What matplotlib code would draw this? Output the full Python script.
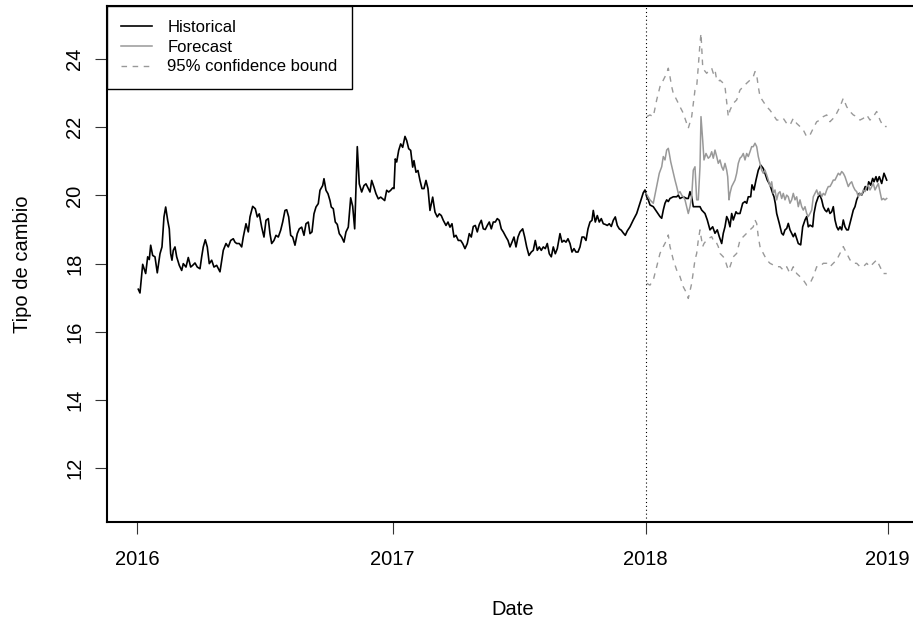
import matplotlib
matplotlib.use("Agg")
import matplotlib.pyplot as plt
from matplotlib.lines import Line2D

plt.rcParams['font.family'] = ['Liberation Sans', 'DejaVu Sans']

# trading-day index of each year label
year_pos = [0, 255.4, 508.4, 750.4]
year_labels = ['2016', '2017', '2018', '2019']

# historical exchange rate (index, value)
hist_idx = [1.0, 2.7, 5.4, 8.4, 10.4, 12.0, 13.4, 15.4, 17.7, 20.0, 22.7, 24.7, 26.7, 28.4, 30.4, 32.0,
            33.4, 34.7, 36.0, 37.7, 39.4, 42.0, 44.4, 46.0, 48.7, 51.0, 53.4, 55.4, 57.7, 60.0, 62.7,
            64.4, 66.0, 68.0, 70.0, 72.0, 74.4, 76.7, 79.4, 82.7, 86.0, 88.7, 91.0, 93.4, 96.0, 97.7,
            99.4, 102.0, 104.4, 106.0, 108.7, 111.0, 112.7, 115.4, 118.0, 120.0, 122.0, 124.4, 126.7,
            128.7, 131.0, 132.7, 134.4, 136.7, 138.7, 141.0, 143.4, 145.4, 147.7, 149.4, 151.4, 153.4,
            155.4, 157.7, 160.0, 162.0, 164.4, 166.7, 168.7, 171.0, 172.7, 174.7, 176.7, 178.7, 181.0,
            182.7, 185.4, 186.7, 188.7, 190.7, 192.7, 194.0, 196.0, 198.0, 200.0, 202.0, 204.4, 206.7,
            208.7, 211.0, 213.4, 215.4, 217.4, 220.0, 222.0, 224.4, 226.7, 228.7, 231.0,
            232.7, 234.4, 236.7, 238.7, 241.0, 243.4, 245.4, 247.4, 249.4, 251.4, 253.4, 255.4, 256.7,
            258.0, 259.4, 261.4, 263.4, 265.4, 267.7, 269.4, 271.4, 273.4, 275.4, 276.7, 278.7, 280.7,
            282.7, 284.7, 286.7, 288.7, 290.7, 292.7, 295.4, 297.7, 300.0, 302.0, 304.0, 306.0, 308.7,
            310.7, 312.7, 314.7, 316.7, 318.7, 321.0, 323.4, 325.4, 327.7, 330.0, 332.0, 334.0, 336.0,
            338.0, 340.0, 342.0, 344.0, 346.0, 348.0, 350.0, 352.0, 354.0, 356.0, 358.0, 360.0, 362.0,
            364.0, 366.0, 368.7, 370.7, 372.7, 374.7, 376.7, 378.7, 380.7, 382.7, 385.4, 387.4, 389.4,
            391.7, 394.0, 396.0, 398.0, 400.0, 402.0, 404.0, 406.0, 408.0, 410.0, 412.0, 414.0, 416.0,
            418.0, 420.0, 422.7, 424.7, 426.7, 428.7, 430.7, 432.7, 434.7, 436.7, 438.7, 440.7, 442.7,
            444.7, 446.7, 448.7, 450.7, 452.7, 454.7, 456.0, 458.0, 460.0, 462.0, 464.0, 466.0, 468.0,
            470.0, 472.0, 474.0, 476.0, 478.0, 480.0, 482.0, 484.0, 486.0, 488.0, 490.0,
            492.7, 496.0, 499.4, 502.7, 506.0, 507.7, 509.4, 511.0, 512.7, 516.0, 519.4, 522.7, 524.4,
            526.0, 527.7, 529.4, 531.0, 532.7, 536.0, 539.4, 541.0, 542.7, 546.0, 549.4, 551.0, 552.7,
            554.4, 556.0, 559.4, 562.7, 564.4, 567.7, 570.0, 572.7, 575.4, 577.7, 580.0, 582.0, 584.4,
            586.0, 587.7, 589.4, 591.0, 592.7, 594.4, 596.0, 598.7, 600.0, 602.7, 605.4, 607.7, 609.4,
            611.0, 613.4, 614.7, 616.7, 618.7, 621.0, 623.4, 626.0, 627.7, 630.0, 632.7, 635.4, 636.7,
            638.0, 639.4, 642.0, 644.4, 646.0, 647.7, 649.4, 651.0, 652.7, 654.4, 656.0, 657.7, 659.4,
            661.0, 663.4, 665.4, 667.7, 669.4, 671.0, 672.7, 675.4, 676.7, 678.7, 681.0, 682.7, 684.4,
            686.0, 687.7, 689.4, 691.0, 692.7, 694.4, 696.0, 697.7, 699.4, 701.0, 702.7, 704.4, 706.0,
            707.7, 709.4, 711.0, 712.7, 714.4, 716.0, 717.7, 719.4, 722.0, 724.4, 726.0, 728.0, 730.0,
            731.4, 733.4, 735.4, 736.7, 738.7, 740.0, 742.0, 744.4, 746.7, 748.0, 749.4]
hist_val = [17.25, 17.14, 17.98, 17.71, 18.20, 18.12, 18.54, 18.24, 18.20, 17.73, 18.29, 18.49, 19.37,
            19.66, 19.27, 19.02, 18.29, 18.10, 18.39, 18.49, 18.20, 17.95, 17.80, 18.00, 17.90, 18.18,
            17.90, 17.95, 18.02, 17.90, 17.85, 18.20, 18.49, 18.70, 18.49, 18.00, 18.10, 17.90, 17.95,
            17.76, 18.39, 18.59, 18.49, 18.68, 18.73, 18.63, 18.59, 18.59, 18.49, 18.78, 19.17, 18.93,
            19.37, 19.68, 19.61, 19.37, 19.46, 19.07, 18.78, 19.27, 19.32, 18.88, 18.59, 18.68, 18.83,
            18.78, 18.98, 19.22, 19.56, 19.58, 19.37, 18.83, 18.78, 18.54, 18.88, 19.02, 19.07, 18.83,
            19.17, 19.22, 18.88, 18.93, 19.46, 19.66, 19.76, 20.15, 20.29, 20.49, 20.15, 20.05, 19.85,
            19.66, 19.61, 19.22, 19.15, 18.88, 18.78, 18.63, 18.93, 19.07, 19.93, 19.68, 19.02, 21.43,
            20.34, 20.10, 20.29, 20.34, 20.20,
            20.10, 20.44, 20.24, 20.05, 19.90, 19.95, 19.90, 19.85, 20.15, 20.10, 20.15, 20.22, 20.20,
            21.07, 20.98, 21.32, 21.51, 21.41, 21.73, 21.61, 21.37, 21.32, 20.83, 21.02, 20.68, 20.73,
            20.44, 20.20, 20.20, 20.44, 20.20, 19.56, 19.95, 19.51, 19.37, 19.46, 19.41, 19.27, 19.12,
            19.22, 19.07, 19.17, 18.78, 18.83, 18.68, 18.68, 18.59, 18.44, 18.59, 18.88, 18.78, 19.09,
            19.12, 18.93, 19.15, 19.27, 19.02, 19.00, 19.12, 19.22, 19.02, 19.22, 19.22, 19.32, 19.27,
            19.02, 18.93, 18.78, 18.68, 18.49, 18.63, 18.78, 18.49, 18.78, 18.93, 19.02, 18.78, 18.49,
            18.24, 18.34, 18.39, 18.68, 18.39, 18.49, 18.39, 18.49, 18.44, 18.59, 18.29, 18.20, 18.49,
            18.29, 18.44, 18.88, 18.63, 18.68, 18.63, 18.73, 18.59, 18.34, 18.44, 18.34, 18.34, 18.49,
            18.78, 18.78, 18.68, 19.02, 19.22, 19.27, 19.56, 19.22, 19.41, 19.22, 19.32, 19.17, 19.15,
            19.12, 19.17, 19.09, 19.27, 19.37, 19.12, 19.02, 18.98, 18.90, 18.83, 18.96,
            19.08, 19.28, 19.47, 19.77, 20.08, 20.16, 19.96, 19.87, 19.72, 19.67, 19.52, 19.38, 19.33,
            19.57, 19.77, 19.87, 19.82, 19.91, 19.96, 19.96, 20.01, 19.91, 19.96, 19.91, 19.91, 20.11,
            19.96, 19.67, 19.67, 19.67, 19.57, 19.47, 19.28, 18.99, 19.08, 18.89, 18.99, 18.79, 18.59,
            18.89, 19.08, 19.38, 19.28, 19.08, 19.47, 19.28, 19.52, 19.47, 19.47, 19.77, 19.82, 19.77,
            19.96, 19.96, 20.31, 20.16, 20.45, 20.74, 20.89, 20.79, 20.65, 20.45, 20.31, 20.06, 19.96,
            19.77, 19.47, 19.18, 18.89, 18.84, 18.99, 19.03, 19.18, 18.99, 18.89, 18.79, 18.89, 18.74,
            18.59, 18.55, 19.08, 19.28, 19.38, 19.08, 19.13, 19.08, 19.47, 19.77, 19.96, 20.01, 19.87,
            19.67, 19.57, 19.52, 19.62, 19.47, 19.52, 19.67, 19.28, 19.08, 18.99, 19.08, 18.99, 19.28,
            19.08, 18.99, 18.99, 19.18, 19.38, 19.57, 19.67, 19.87, 20.06, 20.01, 20.11, 20.26, 20.16,
            20.40, 20.30, 20.50, 20.40, 20.55, 20.40, 20.55, 20.35, 20.65, 20.55, 20.45]

# forecast from 2018 on
fc_idx = [508.7, 512.7, 516.0, 519.4, 522.0, 524.4, 526.0, 527.7, 529.4, 531.0, 532.0, 533.4, 535.4,
          537.7, 539.4, 541.0, 542.7, 544.4, 546.0, 547.7, 549.4, 551.0, 552.7, 554.4, 556.0, 557.7,
          559.4, 561.0, 562.7, 563.7, 565.4, 566.7, 568.7, 571.0, 572.7, 574.4, 576.0, 577.7, 579.4,
          581.0, 582.7, 584.4, 586.0, 587.7, 589.4, 590.4, 591.7, 592.7, 594.4, 596.0, 597.7, 599.4,
          601.0, 602.7, 604.4, 606.0, 607.7, 609.4, 611.0, 612.7, 614.4, 616.0, 617.7, 619.4, 621.0,
          622.7, 624.4, 626.0, 627.7, 629.4, 631.0, 632.7, 634.4, 636.0, 637.7, 639.4, 641.0, 642.7,
          644.4, 646.0, 647.7, 649.4, 651.0, 652.7, 654.4, 656.0, 657.7, 659.4, 661.0, 662.7, 664.4,
          666.0, 667.7, 669.4, 671.0, 672.7, 674.4, 676.0, 677.7, 679.4, 681.0, 682.7, 684.4, 686.0,
          687.7, 689.4, 691.0, 692.7, 694.4, 696.0, 697.7, 699.4, 701.0, 702.7, 704.4, 706.0, 707.7,
          709.4, 711.0, 712.7, 714.4, 716.0, 717.7, 719.4, 721.0, 722.7, 724.4, 726.0, 727.7, 729.4,
          731.0, 732.7, 734.4, 736.0, 737.7, 739.4, 741.0, 742.7, 744.4, 746.0, 747.7, 749.4]
fc_val = [20.06, 19.87, 19.77, 20.26, 20.65, 20.84, 21.14, 21.04, 21.33, 21.38, 21.23, 20.99, 20.74,
          20.45, 20.26, 20.06, 20.11, 20.01, 19.96, 19.87, 19.67, 19.47, 19.67, 19.96, 20.74, 20.84,
          19.87, 19.87, 20.84, 22.31, 21.62, 21.04, 21.23, 21.09, 21.14, 21.28, 21.09, 21.33, 21.14,
          20.94, 21.04, 20.84, 20.74, 20.94, 20.74, 20.55, 19.87, 20.06, 20.26, 20.35, 20.45, 20.65,
          20.94, 21.09, 21.14, 21.23, 21.04, 21.23, 21.14, 21.28, 21.43, 21.43, 21.53, 21.43, 21.14,
          20.94, 20.74, 20.65, 20.74, 20.60, 20.45, 20.26, 20.40, 20.06, 20.16, 19.87, 20.06, 20.11,
          19.91, 20.06, 19.87, 20.01, 19.96, 19.77, 19.87, 20.06, 19.87, 19.96, 19.67, 19.87, 19.67,
          19.57, 19.67, 19.47, 19.38, 19.47, 19.57, 19.96, 20.06, 20.16, 20.01, 20.11, 19.96, 20.06,
          20.01, 20.16, 20.26, 20.26, 20.35, 20.45, 20.45, 20.55, 20.65, 20.60, 20.70, 20.65, 20.55,
          20.40, 20.26, 20.35, 20.40, 20.26, 20.16, 20.11, 19.96, 20.06, 20.01, 20.16, 20.11, 20.26,
          20.30, 20.16, 20.26, 20.35, 20.16, 20.26, 20.35, 20.11, 19.87, 19.91, 19.87, 19.91]

# 95% bounds
bound_idx = [509.4, 512.7, 516.0, 519.4, 522.7, 526.0, 529.4, 531.0, 532.7, 534.4, 536.0, 539.4, 542.7,
             546.0, 549.4, 551.0, 554.4, 557.7, 559.4, 561.0, 562.7, 563.7, 565.4, 566.7, 569.4, 572.0,
             574.4, 576.0, 577.7, 579.4, 581.0, 582.7, 586.0, 587.7, 591.0, 592.7, 596.0, 599.4, 602.7,
             606.0, 609.4, 612.7, 616.0, 617.7, 619.4, 621.0, 622.7, 626.0, 629.4, 632.7, 636.0, 639.4,
             642.7, 646.0, 649.4, 652.7, 656.0, 659.4, 662.7, 666.0, 669.4, 672.7, 676.0, 679.4, 682.7,
             686.0, 689.4, 692.7, 696.0, 699.4, 702.7, 706.0, 709.4, 712.7, 716.0, 719.4, 722.7, 726.0,
             729.4, 732.7, 736.0, 739.4, 742.7, 746.0, 749.4]
upper_val = [22.31, 22.36, 22.31, 22.80, 23.19, 23.38, 23.58, 23.73, 23.48, 23.19, 22.99, 22.80, 22.60,
             22.41, 22.11, 21.97, 22.31, 23.09, 23.19, 23.78, 24.46, 24.75, 23.78, 23.68, 23.58, 23.68,
             23.73, 23.58, 23.68, 23.38, 23.34, 23.38, 23.29, 23.19, 22.31, 22.50, 22.70, 22.80, 23.09,
             23.19, 23.29, 23.38, 23.48, 23.63, 23.53, 23.19, 22.90, 22.75, 22.60, 22.50, 22.36, 22.21,
             22.21, 22.26, 22.11, 22.06, 22.26, 22.11, 22.02, 21.92, 21.72, 21.77, 21.97, 22.16, 22.21,
             22.31, 22.36, 22.16, 22.26, 22.41, 22.60, 22.85, 22.60, 22.46, 22.36, 22.31, 22.21, 22.26,
             22.36, 22.21, 22.31, 22.46, 22.21, 22.02, 22.02]
lower_val = [17.42, 17.37, 17.52, 17.91, 18.30, 18.50, 18.69, 18.84, 18.50, 18.30, 18.11, 17.81, 17.62,
             17.32, 17.13, 16.98, 17.42, 18.11, 18.30, 18.69, 18.99, 18.80, 18.50, 18.59, 18.69, 18.75,
             18.79, 18.69, 18.69, 18.60, 18.50, 18.30, 18.20, 18.11, 17.81, 17.91, 18.20, 18.30, 18.69,
             18.79, 18.89, 18.99, 19.08, 19.28, 19.18, 18.79, 18.50, 18.30, 18.11, 18.01, 17.96, 17.91,
             17.91, 17.81, 17.91, 17.71, 17.91, 17.71, 17.62, 17.52, 17.37, 17.42, 17.62, 17.91, 17.91,
             18.01, 18.01, 17.91, 18.01, 18.11, 18.30, 18.50, 18.30, 18.11, 18.01, 18.01, 17.91, 17.91,
             18.01, 17.91, 18.01, 18.11, 17.91, 17.71, 17.71]

fc_color = '#999999'

fig = plt.figure(figsize=(9.13, 6.23), dpi=100)
ax = fig.add_axes([0.1175, 0.1626, 0.8872, 0.8278])

ax.plot(hist_idx, hist_val, color='black', lw=1.2)
ax.plot(fc_idx, fc_val, color=fc_color, lw=1.1)
ax.plot(bound_idx, upper_val, color=fc_color, lw=1.0, linestyle=(0, (4, 4)))
ax.plot(bound_idx, lower_val, color=fc_color, lw=1.0, linestyle=(0, (4, 4)))
ax.axvline(year_pos[2], color='black', lw=0.8, linestyle=(0, (1, 2.5)))

ax.set_xlim(-30, 780)
ax.set_ylim(10.434, 25.554)
ax.set_xticks(year_pos)
ax.set_xticklabels(year_labels)
ax.set_yticks([12, 14, 16, 18, 20, 22, 24])
ax.tick_params(axis='both', direction='out', length=8.6, width=0.8, labelsize=14.5, color='#333333')
ax.tick_params(axis='x', pad=12)
ax.tick_params(axis='y', pad=8, labelrotation=90)
for lab in ax.get_yticklabels():
    lab.set_va('center')

for side in ['left', 'bottom', 'top']:
    ax.spines[side].set_linewidth(1.5)
    ax.spines[side].set_color('black')
ax.spines['right'].set_visible(False)

ax.set_xlabel('Date', fontsize=14.5)
ax.set_ylabel('Tipo de cambio', fontsize=14.5)
ax.xaxis.set_label_coords(0.5, -0.170)
ax.xaxis.label.set_va('center')
ax.yaxis.set_label_coords(-0.1045, 0.5)
ax.yaxis.label.set_va('center')

handles = [Line2D([], [], color='black', lw=1.2),
           Line2D([], [], color=fc_color, lw=1.1),
           Line2D([], [], color=fc_color, lw=1.0, linestyle=(0, (4, 4)))]
leg = ax.legend(handles, ['Historical', 'Forecast', '95% confidence bound'],
                loc='upper left', bbox_to_anchor=(0, 1), borderaxespad=0,
                fancybox=False, framealpha=1, edgecolor='black', fontsize=12,
                handlelength=1.86, handletextpad=0.9, labelspacing=0.28,
                borderpad=0.85)
leg.get_frame().set_linewidth(1.0)

fig.savefig('out.png', dpi=100)
